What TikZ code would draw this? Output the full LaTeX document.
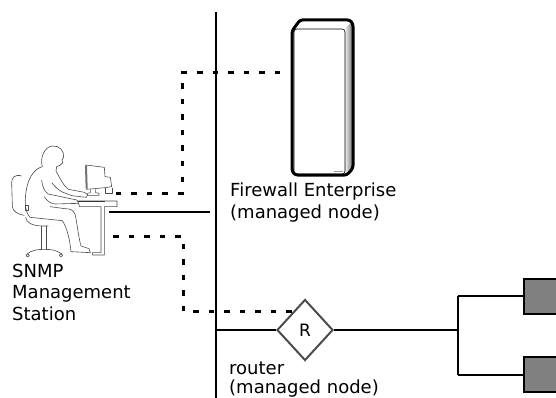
\documentclass[tikz,border=0pt]{standalone}
\usepackage{fontspec}
\setmainfont{DejaVu Sans}
\usetikzlibrary{shapes.geometric}
\begin{document}
\begin{tikzpicture}[x=1pt,y=-1pt,
  bus/.style={line width=2pt, black},
  link/.style={line width=3pt, black, dash pattern=on 5.5pt off 10pt},
  label/.style={anchor=base west, inner sep=0pt, font=\fontsize{18}{22}\selectfont},
  sketch/.style={draw=black!70, line width=0.6pt, line join=round},
  hostbox/.style={draw=black, line width=2pt, fill=black!50},
  routerbox/.style={diamond, draw=black!70, line width=2pt, fill=white,
    minimum width=56pt, minimum height=61pt, inner sep=0pt,
    font=\fontsize{17}{19}\selectfont},
]
\path[use as bounding box, clip] (0,0) rectangle (556,398);

% ---------- anchor points ----------
\coordinate (busTop) at (216,12);
\coordinate (busBot) at (216,400);
\coordinate (busR)   at (216,330);
\coordinate (pcTop)  at (115,193);
\coordinate (pcMid)  at (109,212);
\coordinate (pcLow)  at (113,236);
\coordinate (busEnd) at (210,212);
\coordinate (fwTap)  at (280,73);
\coordinate (rTap)   at (293,311);
\coordinate (split)  at (458,330);

% ---------- LAN backbone ----------
\draw[bus] (busTop) -- (busBot);

% ---------- firewall tower ----------
\node[minimum width=61pt, minimum height=155pt, inner sep=0pt] (fw) at (322.5,97.5) {};
\fill[white] (294,28) -- (301,21) -- (352,21) -- (345,28) -- cycle;
\shade[left color=white, right color=black!50] (344,29) -- (352,22) -- (352,168) -- (344,174) -- cycle;
\draw[black, line width=0.6pt, fill=white, rounded corners=3pt] (294,29) rectangle (345,174);
\draw[black!40, line width=0.5pt] (334,171) -- (343,171);
\draw[black, line width=3pt, line join=round, rounded corners=2.5pt]
  (292,100) -- (292,31) -- (300,20) -- (350,20) -- (353,24) -- (353,168) -- (347,175)
  -- (295,175) -- (292,171) -- cycle;

% ---------- management station ----------
\begin{scope}[shift={(5,140)}, x=1/3pt, y=-1/3pt]
  % chair back
  \draw[sketch] (50,108) .. controls (30,102) and (20,112) .. (20,128) -- (22,200)
    .. controls (24,214) and (36,222) .. (58,226);
  \draw[sketch] (62,196) rectangle (69,212);
  % seat, post and base
  \draw[sketch] (62,232) .. controls (64,248) and (80,256) .. (108,258) -- (130,258);
  \draw[sketch] (110,258) -- (110,330) (125,258) -- (125,330);
  \draw[sketch] (66,342) .. controls (80,330) and (100,328) .. (118,328)
    .. controls (136,328) and (156,330) .. (170,342);
  \draw[sketch] (68,346) circle[radius=5] (168,346) circle[radius=5];
  % head, back, thigh and leg
  \draw[sketch] (153,93) -- (155,80) -- (165,76) -- (173,68) -- (171,60) -- (176,52)
    .. controls (178,32) and (163,16) .. (142,18)
    .. controls (118,20) and (104,55) .. (112,80)
    .. controls (92,86) and (74,105) .. (66,140)
    .. controls (58,175) and (58,215) .. (75,232)
    -- (172,242)
    .. controls (185,260) and (195,300) .. (198,335)
    -- (256,338) -- (252,326) -- (228,318)
    .. controls (220,290) and (215,240) .. (210,222)
    .. controls (205,210) and (195,206) .. (180,206)
    -- (135,200);
  % far arm
  \draw[sketch] (153,93) .. controls (165,115) and (176,138) .. (190,148)
    -- (238,157) -- (248,164) -- (244,172) -- (200,167) -- (172,156)
    .. controls (160,150) and (150,140) .. (140,128);
  % near arm
  \draw[sketch] (110,120) .. controls (112,140) and (118,155) .. (130,162)
    -- (215,180) -- (222,190) -- (150,192)
    .. controls (135,190) and (125,182) .. (118,170);
  % monitor
  \draw[sketch, fill=white] (242,75) -- (298,82) -- (300,110) -- (316,112) -- (320,140)
    -- (300,143) -- (268,146) -- (245,148) -- cycle;
  \draw[black!55, line width=2pt] (243,77) -- (245,146);
  \draw[sketch] (256,148) -- (256,158) -- (248,160) -- (248,166) -- (282,166) -- (282,160) -- (272,158) -- (272,148);
  \draw[sketch] (300,143) -- (300,160) -- (322,160) -- (322,143);
  % desk
  \draw[sketch, fill=white] (218,183) -- (336,183) -- (336,200) -- (298,200) -- (298,345)
    -- (262,345) -- (262,338) -- (288,338) -- (288,200) -- (224,200) -- cycle;
  \draw[black!80, line width=1pt] (218,184) -- (300,184);
\end{scope}

\node[label] (snmpA) at (12,277) {SNMP};
\node[label] (snmpB) at (12,298.5) {Management};
\node[label] (snmpC) at (12,320) {Station};

% ---------- management links ----------
\draw[link] (fwTap) -| (182,193) -- (pcTop);
\draw[bus] (pcMid) -- (busEnd);

\node[label] (fwA) at (230,196) {Firewall Enterprise};
\node[label] (fwB) at (230,218) {(managed node)};

% ---------- router and hosts ----------
\node[routerbox] (R) at (305,330) {R};
\draw[link] (pcLow) -| (183,311) -- (rTap);
\draw[bus] (busR) -- (R.west);
\draw[bus] (R.east) -- (split);
\draw[bus] (458,296) -- (458,375);
\node[hostbox, minimum width=40pt, minimum height=35pt, inner sep=0pt, anchor=west] (hostA) at (523,296) {};
\node[hostbox, minimum width=40pt, minimum height=35pt, inner sep=0pt, anchor=west] (hostB) at (523,374.5) {};
\draw[bus] (458,296) -- (hostA.west);
\draw[bus] (458,374.5) -- (hostB.west);

\node[label] (rA) at (229,374) {router};
\node[label] (rB) at (229,393.5) {(managed node)};
\end{tikzpicture}
\end{document}
